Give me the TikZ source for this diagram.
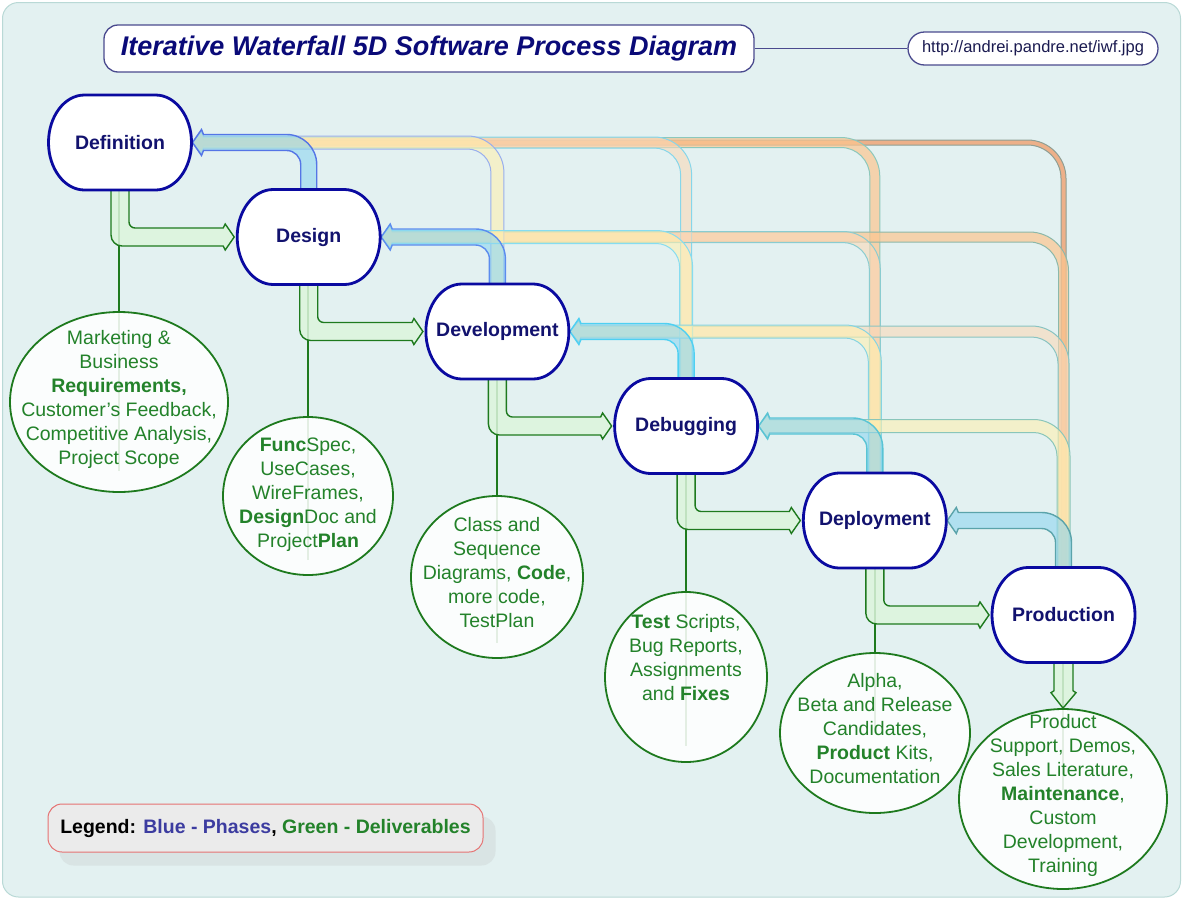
\documentclass[tikz,border=0pt]{standalone}
\usepackage{fontspec}
\setmainfont{Liberation Sans}
\usetikzlibrary{calc,shapes.geometric}
\pgfdeclarelayer{back}
\pgfdeclarelayer{mid}
\pgfsetlayers{back,mid,main}
\definecolor{bgc}{HTML}{E3F1F1}
\definecolor{bgline}{HTML}{B9D9D6}
\definecolor{phaseborder}{HTML}{0A0AA0}
\definecolor{phasetext}{HTML}{12126E}
\definecolor{dgreen}{HTML}{1E7A1E}
\definecolor{tgreen}{HTML}{23822A}
\definecolor{lgreen}{HTML}{DDF5DD}
\definecolor{titlec}{HTML}{0A0A78}
\definecolor{framec}{HTML}{4A4A8E}
\definecolor{urltext}{HTML}{1A1A50}
\definecolor{legblue}{HTML}{3C3CA0}
\definecolor{legborder}{HTML}{E57373}
\definecolor{legfill}{HTML}{EBEBEB}
\definecolor{shadowc}{HTML}{D9E4E4}
\definecolor{fbone}{HTML}{8ED6F0}
\definecolor{fbtwo}{HTML}{FFF0B0}
\definecolor{fbthree}{HTML}{FAD8B8}
\definecolor{fbfour}{HTML}{FCC690}
\definecolor{fbfive}{HTML}{F0A070}
\definecolor{oA}{HTML}{5575E6}
\definecolor{oB}{HTML}{5C8CEE}
\definecolor{oC}{HTML}{98AEEE}
\definecolor{oD}{HTML}{4FD0F2}
\definecolor{oE}{HTML}{86DCF0}
\definecolor{oF}{HTML}{86D6EA}
\definecolor{oG}{HTML}{59C4D4}
\definecolor{oH}{HTML}{86D4E2}
\definecolor{oI}{HTML}{8ACCD0}
\definecolor{oJ}{HTML}{8CC8BC}
\definecolor{oK}{HTML}{5AA3AA}
\definecolor{oL}{HTML}{8AC6BA}
\definecolor{oM}{HTML}{8AC4C2}
\definecolor{oN}{HTML}{8CB8AA}
\definecolor{oO}{HTML}{8F9F94}

% feedback arrow: #1 source index, #2 target index, #3 width, #4 corner radius, #5 style
\newcommand\fbarrow[5]{%
 \pgfmathsetmacro\fbsx{120+188.7*#1}%
 \pgfmathsetmacro\fbsy{142.5+94.5*#1-40}%
 \pgfmathsetmacro\fbty{142.5+94.5*#2}%
 \pgfmathsetmacro\fbtx{120+188.7*#2+72.5}%
 \pgfmathsetmacro\fbh{#3/2}%
 \pgfmathsetmacro\fbro{#4+\fbh}%
 \pgfmathsetmacro\fbri{#4-\fbh}%
 \pgfmathsetmacro\fbw{\fbh+5}%
 \pgfmathsetmacro\fbxa{\fbsx+\fbh}%
 \pgfmathsetmacro\fbxb{\fbsx-\fbh}%
 \pgfmathsetmacro\fbya{\fbty-\fbh}%
 \pgfmathsetmacro\fbyb{\fbty+\fbh}%
 \pgfmathsetmacro\fbkro{0.5523*\fbro}%
 \pgfmathsetmacro\fbkri{0.5523*\fbri}%
 \path[#5] (\fbxa,\fbsy) -- (\fbxa,{\fbya+\fbro})
   .. controls (\fbxa,{\fbya+\fbro-\fbkro}) and ({\fbxa-\fbro+\fbkro},\fbya) .. ({\fbxa-\fbro},\fbya)
   -- ({\fbtx+11},\fbya) -- ({\fbtx+9},{\fbty-\fbw}) -- (\fbtx,\fbty)
   -- ({\fbtx+9},{\fbty+\fbw}) -- ({\fbtx+11},\fbyb)
   -- ({\fbxb-\fbri},\fbyb)
   .. controls ({\fbxb-\fbri+\fbkri},\fbyb) and (\fbxb,{\fbyb+\fbri-\fbkri}) .. (\fbxb,{\fbyb+\fbri})
   -- (\fbxb,\fbsy) -- cycle;
}

% forward (green) arrow from phase #1 to phase #1+1
\newcommand\fwarrow[1]{%
 \pgfmathsetmacro\fwsx{120+188.7*#1}%
 \pgfmathsetmacro\fwsy{142.5+94.5*#1+40}%
 \pgfmathsetmacro\fwty{142.5+94.5*(#1+1)}%
 \pgfmathsetmacro\fwtx{120+188.7*(#1+1)-74.5}%
 \path[fwdband] ({\fwsx-9},\fwsy) -- ({\fwsx-9},{\fwty+9-11})
   .. controls ({\fwsx-9},{\fwty+9-11+6.1}) and ({\fwsx-9+11-6.1},{\fwty+9}) .. ({\fwsx-9+11},{\fwty+9})
   -- ({\fwtx-11},{\fwty+9}) -- ({\fwtx-9},{\fwty+13}) -- (\fwtx,\fwty)
   -- ({\fwtx-9},{\fwty-13}) -- ({\fwtx-11},{\fwty-9})
   -- ({\fwsx+9+6},{\fwty-9})
   .. controls ({\fwsx+9+6-3.3},{\fwty-9}) and ({\fwsx+9},{\fwty-9-6+3.3}) .. ({\fwsx+9},{\fwty-9-6})
   -- ({\fwsx+9},\fwsy) -- cycle;
}

% outline of a phase node: flat top and bottom, elliptic ends
\newcommand\phaseshape[1]{%
 \path[phaseline] ($(#1)+(-35.5,-47.5)$) -- ($(#1)+(35.5,-47.5)$)
   .. controls ($(#1)+(55.4,-47.5)$) and ($(#1)+(71.5,-26.2)$) .. ($(#1)+(71.5,0)$)
   .. controls ($(#1)+(71.5,26.2)$) and ($(#1)+(55.4,47.5)$) .. ($(#1)+(35.5,47.5)$)
   -- ($(#1)+(-35.5,47.5)$)
   .. controls ($(#1)+(-55.4,47.5)$) and ($(#1)+(-71.5,26.2)$) .. ($(#1)+(-71.5,0)$)
   .. controls ($(#1)+(-71.5,-26.2)$) and ($(#1)+(-55.4,-47.5)$) .. cycle;
}

\begin{document}
\begin{tikzpicture}[x=1pt,y=-1pt,
  phase/.style={minimum width=143pt, minimum height=95pt, inner sep=0pt,
    font=\fontsize{19.5}{23}\selectfont\bfseries, text=phasetext},
  phaseline/.style={draw=phaseborder, line width=2.8pt, fill=white},
  deliv/.style={ellipse, draw=dgreen, line width=1.8pt, fill=white, fill opacity=0.88, inner sep=0pt},
  dtext/.style={align=center, text=tgreen, font=\fontsize{19.5}{24}\selectfont, inner sep=0pt},
  conn/.style={draw=dgreen, line width=1.6pt},
  fwdband/.style={fill=lgreen, fill opacity=0.85, draw=dgreen, line width=1.4pt},
  fbA/.style={fill=fbone, fill opacity=0.6, line width=1.4pt},
  fbB/.style={fill=fbtwo, fill opacity=0.6, line width=1pt},
  fbC/.style={fill=fbthree, fill opacity=0.6, line width=1pt},
  fbD/.style={fill=fbfour, fill opacity=0.7, line width=1pt},
  fbE/.style={fill=fbfive, fill opacity=0.8, line width=1pt}
]
\useasboundingbox (0,0) rectangle (1183,900);

% ---------- nodes ----------
\node[draw=framec, line width=1.3pt, fill=white, rounded corners=14pt, minimum width=650pt,
  minimum height=47pt, inner sep=0pt, font=\fontsize{27}{30}\selectfont\bfseries\itshape, text=titlec]
  (title) at (429,48.5) {Iterative Waterfall 5D Software Process Diagram};
\node[draw=framec, line width=1.3pt, fill=white, rounded corners=16.5pt, minimum width=250pt,
  minimum height=33pt, inner sep=0pt, font=\fontsize{16.5}{20}\selectfont, text=urltext]
  (url) at (1033,48.5) {http://andrei.pandre.net/iwf.jpg};

\node[phase] (def) at (120,142.5) {Definition};
\node[phase] (des) at (308.7,237) {Design};
\node[phase] (dev) at (497.4,331.5) {Development};
\node[phase] (dbg) at (686.1,426) {Debugging};
\node[phase] (dep) at (874.8,520.5) {Deployment};
\node[phase] (prd) at (1063.5,615) {Production};

\node[deliv, minimum width=218pt, minimum height=180pt] (e0) at (119,402) {};
\node[deliv, minimum width=170pt, minimum height=158pt] (e1) at (308,496) {};
\node[deliv, minimum width=172pt, minimum height=162pt] (e2) at (497,577) {};
\node[deliv, minimum width=162pt, minimum height=170pt] (e3) at (686,677) {};
\node[deliv, minimum width=190pt, minimum height=160pt] (e4) at (875,733) {};
\node[deliv, minimum width=208pt, minimum height=180pt] (e5) at (1063,799) {};

\node[dtext] (t0) at (119,399) {Marketing \&\\Business\\\textbf{Requirements,}\\Customer’s Feedback,\\Competitive Analysis,\\Project Scope};
\node[dtext] (t1) at (308,495) {\textbf{Func}Spec,\\UseCases,\\WireFrames,\\\textbf{Design}Doc and\\Project\textbf{Plan}};
\node[dtext] (t2) at (497,573) {Class and\\Sequence\\Diagrams, \textbf{Code},\\more code,\\TestPlan};
\node[dtext] (t3) at (686,658) {\textbf{Test} Scripts,\\Bug Reports,\\Assignments\\and \textbf{Fixes}};
\node[dtext] (t4) at (875,729) {Alpha,\\Beta and Release\\Candidates,\\\textbf{Product} Kits,\\Documentation};
\node[dtext] (t5) at (1063,795) {Product\\Support, Demos,\\Sales Literature,\\\textbf{Maintenance},\\Custom\\Development,\\Training};

\node[draw=legborder, line width=1pt, fill=legfill, rounded corners=14pt, minimum width=435pt,
  minimum height=48pt, inner sep=0pt, font=\fontsize{19.5}{23}\selectfont\bfseries]
  (legend) at (265.5,828) {Legend: \textcolor{legblue}{Blue - Phases}, \textcolor{tgreen}{Green - Deliverables}};

% ---------- phase outlines ----------
\begin{pgfonlayer}{mid}
\phaseshape{def}\phaseshape{des}\phaseshape{dev}\phaseshape{dbg}\phaseshape{dep}\phaseshape{prd}
\end{pgfonlayer}

% ---------- background layer ----------
\begin{pgfonlayer}{back}
\fill[white] (0,0) rectangle (1183,900);
\draw[draw=bgline, fill=bgc, rounded corners=16pt, line width=1pt] (2.5,2.5) rectangle (1180.5,897);
\fill[shadowc, rounded corners=14pt] ([shift={(12,13)}]legend.north west) rectangle ([shift={(12,13)}]legend.south east);
\draw[framec, line width=1.2pt] (title.east) -- (url.west);

% deliverable connectors
\draw[conn] (e0.north |- def.south) -- ($(e0.north)!0.88!(e0.south)$);
\draw[conn] (e1.north |- des.south) -- ($(e1.north)!0.9!(e1.south)$);
\draw[conn] (e2.north |- dev.south) -- ($(e2.north)!0.9!(e2.south)$);
\draw[conn] (e3.north |- dbg.south) -- ($(e3.north)!0.9!(e3.south)$);
\draw[conn] (e4.north |- dep.south) -- ($(e4.north)!0.5!(e4.south)$);
\draw[conn] (e5.north |- prd.south) -- ($(e5.north)!0.45!(e5.south)$);

% forward arrows
\fwarrow{0}\fwarrow{1}\fwarrow{2}\fwarrow{3}\fwarrow{4}
\path[fwdband] ($(prd.south)+(-9.5,-8)$) -- ($(prd.south)+(-9.5,28)$) -- ($(prd.south)+(-12.5,30)$)
  -- (e5.north) -- ($(prd.south)+(12.5,30)$) -- ($(prd.south)+(9.5,28)$) -- ($(prd.south)+(9.5,-8)$) -- cycle;

% feedback arrows, longest first
\fbarrow{5}{0}{5}{36}{fbE, draw=oO}
\fbarrow{4}{0}{10}{34}{fbD, draw=oJ}
\fbarrow{5}{1}{10}{34}{fbD, draw=oN}
\fbarrow{3}{0}{11}{32}{fbC, draw=oF}
\fbarrow{4}{1}{11}{32}{fbC, draw=oI}
\fbarrow{5}{2}{11}{32}{fbC, draw=oM}
\fbarrow{2}{0}{13}{30}{fbB, draw=oC}
\fbarrow{3}{1}{13}{30}{fbB, draw=oE}
\fbarrow{4}{2}{13}{30}{fbB, draw=oH}
\fbarrow{5}{3}{13}{30}{fbB, draw=oL}
\fbarrow{1}{0}{16}{22}{fbA, draw=oA}
\fbarrow{2}{1}{16}{22}{fbA, draw=oB}
\fbarrow{3}{2}{16}{22}{fbA, draw=oD}
\fbarrow{4}{3}{16}{22}{fbA, draw=oG}
\fbarrow{5}{4}{16}{22}{fbA, draw=oK}
\end{pgfonlayer}
\end{tikzpicture}
\end{document}
